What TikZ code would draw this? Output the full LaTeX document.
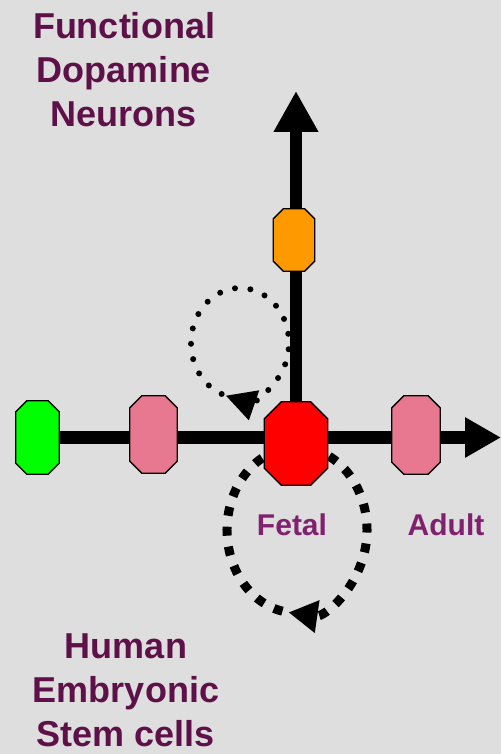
\documentclass[tikz,border=0pt]{standalone}
\usepackage{fontspec}
\setmainfont{Liberation Sans}
\usetikzlibrary{arrows.meta,calc,backgrounds}
\definecolor{canvas}{HTML}{DEDEDE}
\definecolor{plum}{HTML}{5E1049}
\definecolor{orchid}{HTML}{80206F}
\definecolor{rose}{HTML}{E8788F}
\definecolor{amber}{HTML}{FF9900}
% octagonal cell: name, centre, width, height, chamfer, fill colour
\newcommand{\octcell}[6]{%
  \node[minimum width=#3pt, minimum height=#4pt, inner sep=0pt] (#1) at #2 {};
  \filldraw[fill=#6, draw=black, line width=1.3pt, line join=miter]
    ($(#1.north west)+(#5,0)$) -- ($(#1.north east)+(-#5,0)$)
    -- ($(#1.north east)+(0,#5)$) -- ($(#1.south east)+(0,-#5)$)
    -- ($(#1.south east)+(-#5,0)$) -- ($(#1.south west)+(#5,0)$)
    -- ($(#1.south west)+(0,-#5)$) -- ($(#1.north west)+(0,#5)$) -- cycle;}
\begin{document}
\begin{tikzpicture}[x=1pt,y=-1pt,
  axis/.style={line width=12.5pt, draw=black},
  dotloop/.style={line width=6pt, line cap=round, dash pattern=on 0pt off 15.5pt,
    -{Triangle[length=30pt,width=30pt]}},
  dashloop/.style={line width=9pt, dash pattern=on 9pt off 11pt,
    -{Triangle[length=29pt,width=31pt]}},
  heading/.style={text=plum, font=\bfseries\fontsize{36}{44}\selectfont, align=center, inner sep=0pt},
  stage/.style={text=orchid, font=\bfseries\fontsize{30}{36}\selectfont, inner sep=0pt}]
\path[use as bounding box] (0,0) rectangle (501,754);

% cells along the two developmental axes
\octcell{es}{(37.5,437.5)}{43}{73}{11}{green}
\octcell{prog}{(153.5,434.5)}{47}{77}{12}{rose}
\octcell{fetal}{(296,443.5)}{63}{83}{17}{red}
\octcell{adult}{(416,435)}{48}{78}{12}{rose}
\octcell{da}{(294,240)}{41}{62}{10}{amber}

\coordinate (htip) at (501,437.5);
\coordinate (vtip) at (296,91);
\coordinate (ucen) at (240,343);
\coordinate (lcen) at (297,530);

\begin{scope}[on background layer]
  \fill[canvas] (0,0) rectangle (501,754);
  % self-renewal loops
  \draw[dotloop] ($(ucen)+(112:49 and 55)$) arc[start angle=112, end angle=467, x radius=49, y radius=55];
  \draw[dashloop] ($(lcen)+(102:70 and 83)$) arc[start angle=102, end angle=457, x radius=70, y radius=83];
  % axes
  \draw[axis, -{Triangle[length=36pt,width=38pt]}] (es.center) -- (htip);
  \draw[axis, -{Triangle[length=41pt,width=42pt]}] (fetal.center) -- (vtip);
\end{scope}

\node[heading, anchor=north] (top) at (124,12) {Functional\\Dopamine\\Neurons};
\node[heading, anchor=north] (bottom) at (126,634) {Human\\Embryonic\\Stem cells};
\node[stage, anchor=base] (lblfetal) at (292,535) {Fetal};
\node[stage, anchor=base] (lbladult) at (446,535) {Adult};
\end{tikzpicture}
\end{document}
